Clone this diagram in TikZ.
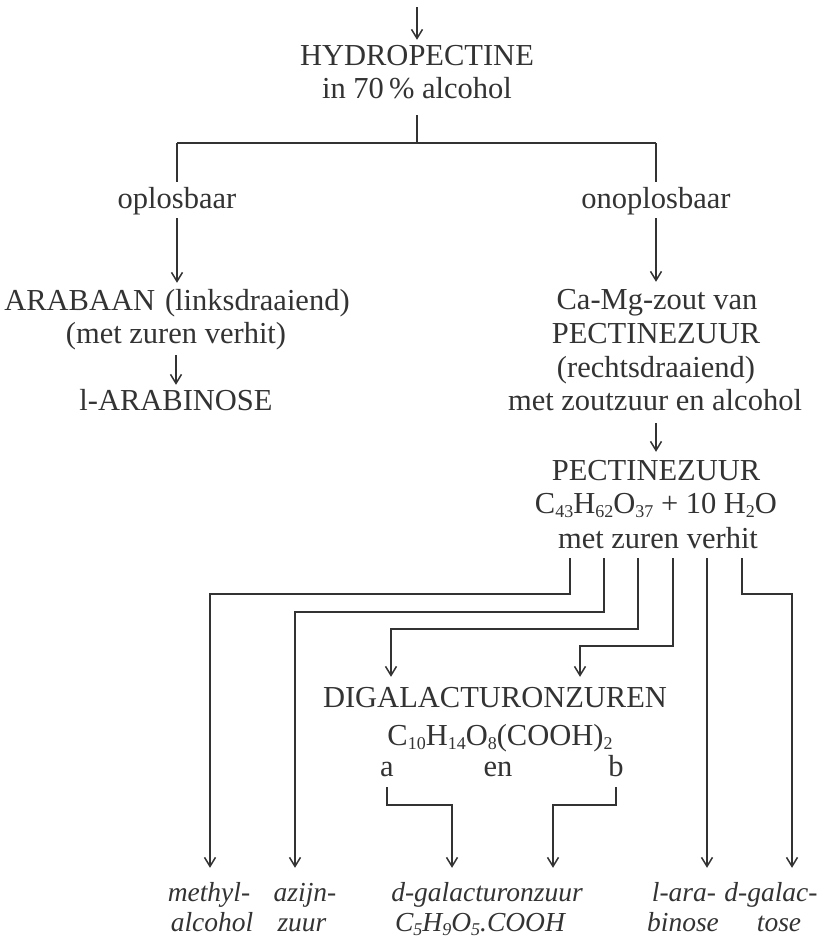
\documentclass[tikz,border=0pt]{standalone}
\usepackage{fontspec}
\setmainfont{Liberation Serif}
\usetikzlibrary{arrows.meta}
\definecolor{ink}{gray}{0.2}
\newcommand\subs[1]{\raisebox{-0.16em}{\fontsize{18}{18}\selectfont #1}}
\begin{document}
\begin{tikzpicture}[x=1pt,y=-1pt,
  txt/.style={anchor=base, inner sep=0pt, text=ink, text height=21pt, text depth=6pt,
              font=\fontsize{30.5}{34}\selectfont},
  itxt/.style={anchor=base, inner sep=0pt, text=ink, text height=20pt, text depth=6pt,
              font=\fontsize{27.5}{31}\selectfont\itshape},
  ln/.style={draw=ink, line width=1.7pt},
  arr/.style={ln, -{Straight Barb[length=9pt,width=11pt,line width=1.5pt]}}]
\useasboundingbox (0,0) rectangle (827,940);

% ---- top part
\node[txt] (h1) at (417,65) {HYDROPECTINE};
\node[txt] (h2) at (417,98) {in 70\,\% alcohol};
\coordinate (top) at (417,7);
\draw[arr, shorten >=4pt] (top) -- (h1.north);

\coordinate (split) at (417,143);
\coordinate (sl) at (177,143);
\coordinate (sr) at (656,143);
\draw[ln, shorten <=11pt] (h2.south) -- (split);
\draw[ln] (sl) -- (sr);

\node[txt] (opl) at (177,208) {oplosbaar};
\node[txt] (onopl) at (656,208) {onoplosbaar};
\draw[ln, shorten >=5pt] (sl) -- (opl.north);
\draw[ln, shorten >=5pt] (sr) -- (onopl.north);

% ---- left branch
\node[txt] (arab) at (177,310) {ARABAAN\hspace{10pt}(linksdraaiend)};
\node[txt] (arab2) at (176,343) {(met zuren verhit)};
\node[txt] (arabi) at (176,410) {l-ARABINOSE};
\draw[arr, shorten <=4pt, shorten >=6pt] (opl.south) -- (arab.north);
\draw[arr, shorten <=6pt, shorten >=4pt] (arab2.south -| arabi.north) -- (arabi.north);

% ---- right branch
\node[txt] (camg) at (657,309) {Ca-Mg-zout van};
\node[txt] (pz1) at (656,343) {PECTINEZUUR};
\node[txt] (rechts) at (656,377) {(rechtsdraaiend)};
\node[txt] (zout) at (655,410) {met zoutzuur en alcohol};
\draw[arr, shorten <=4pt, shorten >=6pt] (onopl.south) -- (camg.north -| onopl.south);

\node[txt] (pz2) at (656,480) {PECTINEZUUR};
\node[txt] (form1) at (656,513) {C\subs{43}H\subs{62}O\subs{37} + 10 H\subs{2}O};
\node[txt] (mzv) at (658,548) {met zuren verhit};
\draw[arr, shorten <=7pt, shorten >=7pt] (zout.south -| pz2.north) -- (pz2.north);

% ---- digalacturonzuren
\node[txt] (dig) at (495,707) {DIGALACTURONZUREN};
\node[txt] (form2) at (500,745) {C\subs{10}H\subs{14}O\subs{8}(COOH)\subs{2}};
\node[txt] (na) at (387,776) {a};
\node[txt] (nen) at (498,776) {en};
\node[txt] (nb) at (616,776) {b};

% ---- bottom products
\node[itxt] (meth1) at (209,901) {methyl-};
\node[itxt] (meth2) at (212,931) {alcohol};
\node[itxt] (azi1) at (305,901) {azijn-};
\node[itxt] (azi2) at (302,931) {zuur};
\node[itxt] (dgc1) at (487,901) {d-galacturonzuur};
\node[itxt] (dgc2) at (480,931) {C\subs{5}H\subs{9}O\subs{5}.COOH};
\node[itxt] (lara1) at (684,901) {l-ara-};
\node[itxt] (lara2) at (683,931) {binose};
\node[itxt] (dgal1) at (771,901) {d-galac-};
\node[itxt] (dgal2) at (779,931) {tose};

% ---- six lines from "met zuren verhit"
\coordinate (a1) at (570,558); \coordinate (b1) at (210,594);
\coordinate (a2) at (604,558); \coordinate (b2) at (295,612);
\coordinate (a3) at (638,558); \coordinate (b3) at (391,629);
\coordinate (a4) at (673,558); \coordinate (b4) at (580,646);
\coordinate (a5) at (707,558);
\coordinate (a6) at (742,558); \coordinate (b6) at (792,594);

\draw[arr, shorten >=13pt] (a1) |- (b1) -- (b1 |- meth1.north);
\draw[arr, shorten >=13pt] (a2) |- (b2) -- (b2 |- azi1.north);
\draw[arr, shorten >=9pt] (a3) |- (b3) -- (b3 |- dig.north);
\draw[arr, shorten >=9pt] (a4) |- (b4) -- (b4 |- dig.north);
\draw[arr, shorten >=13pt] (a5) -- (a5 |- lara1.north);
\draw[arr, shorten >=13pt] (a6) |- (b6) -- (b6 |- dgal1.north);

% ---- a and b to d-galacturonzuur
\coordinate (c1) at (452,805);
\coordinate (c2) at (553,805);
\draw[arr, shorten <=5pt, shorten >=13pt] (na.south) |- (c1) -- (c1 |- dgc1.north);
\draw[arr, shorten <=5pt, shorten >=13pt] (nb.south) |- (c2) -- (c2 |- dgc1.north);
\end{tikzpicture}
\end{document}
